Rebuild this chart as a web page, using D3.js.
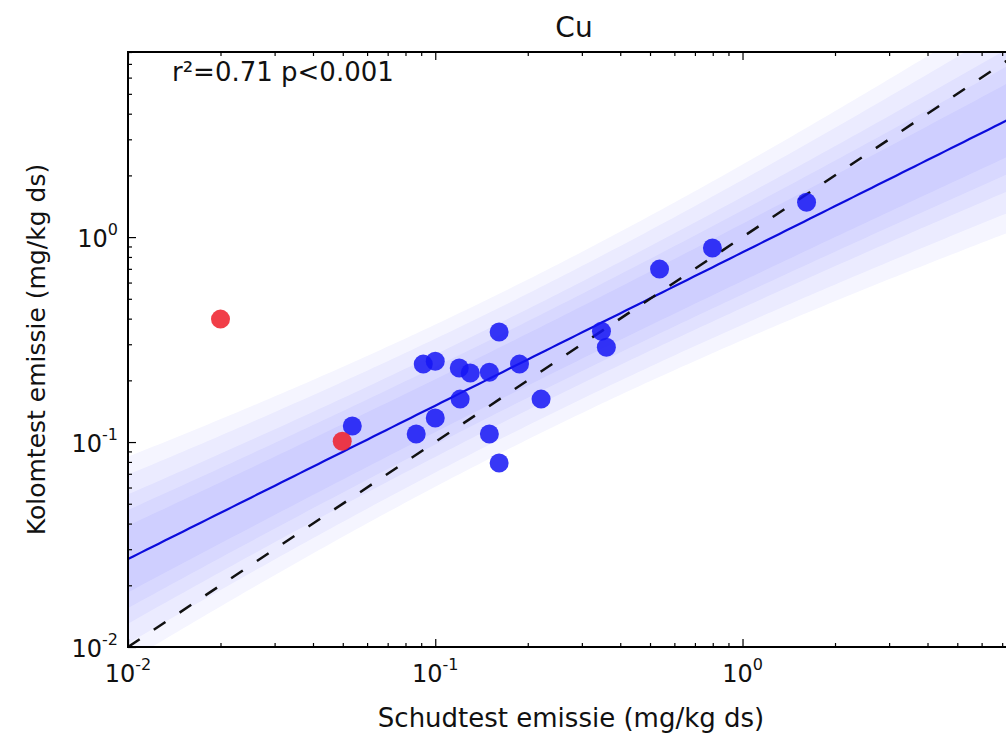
<!DOCTYPE html>
<html>
<head>
<meta charset="utf-8">
<script src="https://cdn.jsdelivr.net/npm/d3@7"></script>
<style>
body { margin: 0; background: #fff; overflow: hidden; }
text { font-family: "DejaVu Sans", sans-serif; fill: #111; }
</style>
</head>
<body>
<svg width="1006" height="739"></svg>
<script>
var svg = d3.select("svg");

// Cu: schudtest (x) vs kolomtest (y), mg/kg ds
var schudtest = [0.0537, 0.0867, 0.0914, 0.100, 0.100, 0.1197, 0.130, 0.1205, 0.150, 0.1614,
                 0.150, 0.1614, 0.188, 0.221, 0.3475, 0.3605, 0.537, 0.798, 1.616];
var kolomtest = [0.1197, 0.1094, 0.240, 0.248, 0.131, 0.2296, 0.2173, 0.162, 0.219, 0.344,
                 0.1094, 0.079, 0.240, 0.162, 0.3475, 0.290, 0.698, 0.884, 1.48];
// outliers, left out of the fit
var outSchud = [0.020, 0.0498];
var outKolom = [0.398, 0.101];

var bandLevels = [0.5, 0.68, 0.8, 0.9, 0.95];
var tQuantiles = [0.689, 1.012, 1.333, 1.740, 2.110]; // student t, df = 17
var majorTicks = [0.01, 0.1, 1];
var tickExp = ["-2", "-1", "0"];
var minorTicks = [0.02, 0.03, 0.04, 0.05, 0.06, 0.07, 0.08, 0.09,
                  0.2, 0.3, 0.4, 0.5, 0.6, 0.7, 0.8, 0.9, 2, 3, 4, 5, 6, 7, 8];

var plotL = 128, plotR = 1020, plotT = 52, plotB = 647;

var x = d3.scaleLog().domain([0.01, 8]).range([plotL, plotR]);
var y = d3.scaleLog().domain([0.01, 8]).range([plotB, plotT]);

// OLS in log space
var lx = schudtest.map(Math.log10), ly = kolomtest.map(Math.log10);
var n = lx.length, mx = d3.mean(lx), my = d3.mean(ly);
var sxx = d3.sum(lx, function (d) { return (d - mx) * (d - mx); });
var sxy = d3.sum(lx, function (d, i) { return (d - mx) * (ly[i] - my); });
var syy = d3.sum(ly, function (d) { return (d - my) * (d - my); });
var slope = sxy / sxx, icpt = my - slope * mx;
var s = Math.sqrt((syy - slope * sxy) / (n - 2));

var grid = d3.range(-2, 0.92, 0.02);

svg.append("defs").append("clipPath").attr("id", "plot")
    .append("rect").attr("x", plotL).attr("y", plotT)
    .attr("width", plotR - plotL).attr("height", plotB - plotT);

var g = svg.append("g").attr("clip-path", "url(#plot)");

tQuantiles.forEach(function (t) {
    var area = d3.area()
        .x(function (d) { return x(Math.pow(10, d)); })
        .y0(function (d) {
            var hw = t * s * Math.sqrt(1 + 1 / n + (d - mx) * (d - mx) / sxx);
            return y(Math.pow(10, icpt + slope * d - hw));
        })
        .y1(function (d) {
            var hw = t * s * Math.sqrt(1 + 1 / n + (d - mx) * (d - mx) / sxx);
            return y(Math.pow(10, icpt + slope * d + hw));
        });
    g.append("path").datum(grid)
        .attr("d", area)
        .attr("fill", "#2020ff")
        .attr("fill-opacity", 0.045);
});

g.append("path").datum(grid)
    .attr("d", d3.line()
        .x(function (d) { return x(Math.pow(10, d)); })
        .y(function (d) { return y(Math.pow(10, icpt + slope * d)); }))
    .attr("fill", "none")
    .attr("stroke", "#0c0cdc")
    .attr("stroke-width", 2.2);

// 1:1 line
g.append("line")
    .attr("x1", x(0.01)).attr("y1", y(0.01))
    .attr("x2", x(8)).attr("y2", y(8))
    .attr("stroke", "#111")
    .attr("stroke-width", 2.5)
    .attr("stroke-dasharray", "14,17");

g.append("g").selectAll("circle")
    .data(schudtest)
    .enter().append("circle")
    .attr("cx", function (d) { return x(d); })
    .attr("cy", function (d, i) { return y(kolomtest[i]); })
    .attr("r", 9.5)
    .attr("fill", "#1515f5")
    .attr("fill-opacity", 0.85);

g.append("g").selectAll("circle")
    .data(outSchud)
    .enter().append("circle")
    .attr("cx", function (d) { return x(d); })
    .attr("cy", function (d, i) { return y(outKolom[i]); })
    .attr("r", 9.5)
    .attr("fill", "#ee1c28")
    .attr("fill-opacity", 0.85);

// ticks, pointing inward on all four sides
function ticks(axis, vals, size, tx, ty) {
    svg.append("g")
        .attr("transform", "translate(" + tx + "," + ty + ")")
        .call(axis.tickValues(vals).tickSize(-size).tickFormat(""))
        .call(function (a) { a.select(".domain").remove(); })
        .selectAll("line").attr("stroke", "#000").attr("stroke-width", 1.2);
}
[[majorTicks, 8], [minorTicks, 4]].forEach(function (p) {
    ticks(d3.axisBottom(x), p[0], p[1], 0, plotB);
    ticks(d3.axisTop(x), p[0], p[1], 0, plotT);
    ticks(d3.axisLeft(y), p[0], p[1], plotL, 0);
    ticks(d3.axisRight(y), p[0], p[1], plotR, 0);
});

svg.append("rect")
    .attr("x", plotL).attr("y", plotT)
    .attr("width", plotR - plotL).attr("height", plotB - plotT)
    .attr("fill", "none")
    .attr("stroke", "#000")
    .attr("stroke-width", 2);

// tick labels
majorTicks.forEach(function (v, i) {
    var t = svg.append("text")
        .attr("x", x(v)).attr("y", 682)
        .attr("text-anchor", "middle")
        .style("font-size", "24px");
    t.append("tspan").text("10");
    t.append("tspan").attr("dy", -12).style("font-size", "16px").text(tickExp[i]);

    var u = svg.append("text")
        .attr("x", 118).attr("y", y(v) + 10)
        .attr("text-anchor", "end")
        .style("font-size", "24px");
    u.append("tspan").text("10");
    u.append("tspan").attr("dy", -12).style("font-size", "16px").text(tickExp[i]);
});

svg.append("text")
    .attr("x", (plotL + plotR) / 2).attr("y", 37)
    .attr("text-anchor", "middle")
    .style("font-size", "28px")
    .text("Cu");

svg.append("text")
    .attr("x", 172).attr("y", 81)
    .style("font-size", "26px")
    .text("r²=0.71 p<0.001");

svg.append("text")
    .attr("x", 571).attr("y", 727)
    .attr("text-anchor", "middle")
    .style("font-size", "26px")
    .text("Schudtest emissie (mg/kg ds)");

svg.append("text")
    .attr("transform", "translate(45," + (plotT + plotB) / 2 + ") rotate(-90)")
    .attr("text-anchor", "middle")
    .style("font-size", "25px")
    .text("Kolomtest emissie (mg/kg ds)");
</script>
</body>
</html>
